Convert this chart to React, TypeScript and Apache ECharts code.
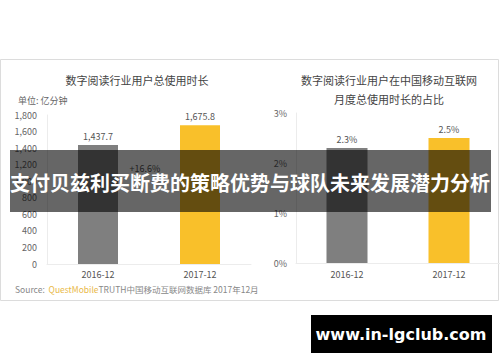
import React, { useEffect, useRef } from "react";
import * as echarts from "echarts";

const categories = ["2016-12", "2017-12"];
const totalMinutes = [1437.7, 1675.8];
const shareOfMobile = [2.3, 2.5];
const leftTicks = { min: 0, max: 1800, interval: 200 };
const rightTicks = { min: 0, max: 3, interval: 1 };
const leftTitle = "数字阅读行业用户总使用时长";
const rightTitle = "数字阅读行业用户在中国移动互联网\n月度总使用时长的占比";
const unitLabel = "单位: 亿分钟";
const bannerText = "支付贝兹利买断费的策略优势与球队未来发展潜力分析";
const watermark = "www.in-lgclub.com";
const barColors = ["#7f7f7f", "#f9c02a"];

const CJK = '"Noto Sans CJK SC", "Noto Sans", sans-serif';

function fmtThousands(v: number, digits = 0) {
  return v.toLocaleString("en-US", { minimumFractionDigits: digits, maximumFractionDigits: digits });
}

export default function App() {
  const ref = useRef<HTMLDivElement>(null);
  useEffect(() => {
    if (!ref.current) return;
    const chart = echarts.init(ref.current, null, { renderer: "svg" });
    const growth = (totalMinutes[1] / totalMinutes[0] - 1) * 100;
    const axisLabelStyle = { color: "#666", fontSize: 9, fontFamily: CJK };
    chart.setOption({
      animation: false,
      backgroundColor: "#fff",
      textStyle: { fontFamily: CJK },
      title: [
        {
          text: leftTitle,
          left: 137,
          top: 73,
          padding: 0,
          textAlign: "center",
          textStyle: { fontSize: 11, color: "#444", fontWeight: "normal", fontFamily: CJK, lineHeight: 13 },
        },
        {
          text: rightTitle,
          left: 389,
          top: 70,
          padding: 0,
          textAlign: "center",
          textStyle: { fontSize: 11, color: "#444", fontWeight: "normal", fontFamily: CJK, lineHeight: 19 },
        },
      ],
      grid: [
        { left: 47, top: 115, width: 204, height: 149 },
        { left: 296, top: 113, width: 204, height: 150 },
      ],
      xAxis: [
        {
          type: "category",
          gridIndex: 0,
          data: categories,
          axisLine: { lineStyle: { color: "#ececec" } },
          axisTick: { show: false },
          axisLabel: { ...axisLabelStyle, color: "#555", margin: 6 },
        },
        {
          type: "category",
          gridIndex: 1,
          data: categories,
          axisLine: { lineStyle: { color: "#ececec" } },
          axisTick: { show: false },
          axisLabel: { ...axisLabelStyle, color: "#555", margin: 7 },
        },
      ],
      yAxis: [
        {
          type: "value",
          gridIndex: 0,
          ...leftTicks,
          axisLine: { show: true, lineStyle: { color: "#ececec" } },
          axisTick: { show: false },
          splitLine: { show: false },
          axisLabel: { ...axisLabelStyle, margin: 10, formatter: (v: number) => fmtThousands(v) },
        },
        {
          type: "value",
          gridIndex: 1,
          ...rightTicks,
          axisLine: { show: true, lineStyle: { color: "#ececec" } },
          axisTick: { show: false },
          splitLine: { show: false },
          axisLabel: { ...axisLabelStyle, margin: 9, formatter: (v: number) => `${v}%` },
        },
      ],
      series: [
        {
          type: "bar",
          xAxisIndex: 0,
          yAxisIndex: 0,
          barWidth: 40,
          data: totalMinutes.map((v, i) => ({ value: v, itemStyle: { color: barColors[i] } })),
          label: {
            show: true,
            position: "top",
            distance: 4,
            color: "#555",
            fontSize: 9,
            formatter: (p: any) => fmtThousands(p.value, 1),
          },
        },
        {
          type: "bar",
          xAxisIndex: 1,
          yAxisIndex: 1,
          barWidth: 41,
          data: shareOfMobile.map((v, i) => ({ value: v, itemStyle: { color: barColors[i] } })),
          label: {
            show: true,
            position: "top",
            distance: 4,
            color: "#555",
            fontSize: 9,
            formatter: (p: any) => `${p.value.toFixed(1)}%`,
          },
        },
      ],
      graphic: [
        {
          type: "rect",
          shape: { x: 0.5, y: 59.5, width: 498, height: 241 },
          style: { fill: "none", stroke: "#dcdcdc", lineWidth: 1 },
          z: 0,
        },
        {
          type: "text",
          x: 18,
          y: 100,
          style: { text: unitLabel, fill: "#666", fontSize: 9, fontFamily: CJK, verticalAlign: "middle" },
        },
        {
          type: "text",
          x: 145,
          y: 168,
          style: {
            text: `+${growth.toFixed(1)}%`,
            fill: "#555",
            fontSize: 9,
            fontFamily: CJK,
            align: "center",
            verticalAlign: "middle",
          },
        },
        {
          type: "text",
          x: 15,
          y: 289,
          style: {
            rich: {
              a: { fill: "#888", fontSize: 8.5, fontFamily: CJK },
              b: { fill: "#e9b949", fontSize: 8.5, fontFamily: CJK },
            },
            text: "{a|Source:  }{b|QuestMobile}{a|TRUTH中国移动互联网数据库 2017年12月}",
            verticalAlign: "middle",
          },
        },
        {
          type: "rect",
          shape: { x: 10, y: 150, width: 481, height: 62 },
          style: { fill: "rgba(0,0,0,0.6)" },
          z: 100,
        },
        {
          type: "text",
          x: 250,
          y: 182,
          z: 101,
          style: {
            text: bannerText,
            fill: "#fff",
            fontSize: 20,
            fontWeight: "bold",
            fontFamily: CJK,
            align: "center",
            verticalAlign: "middle",
          },
        },
        {
          type: "rect",
          shape: { x: 311, y: 315, width: 181, height: 38 },
          style: { fill: "#000" },
          z: 100,
        },
        {
          type: "text",
          x: 401,
          y: 334,
          z: 101,
          style: {
            text: watermark,
            fill: "#fff",
            fontSize: 16,
            fontWeight: "bold",
            fontFamily: '"DejaVu Sans", Verdana, sans-serif',
            align: "center",
            verticalAlign: "middle",
          },
        },
      ],
    });
    return () => chart.dispose();
  }, []);
  return (
    <div
      ref={ref}
      style={{ position: "fixed", left: 0, top: 0, width: 500, height: 362 }}
    />
  );
}
